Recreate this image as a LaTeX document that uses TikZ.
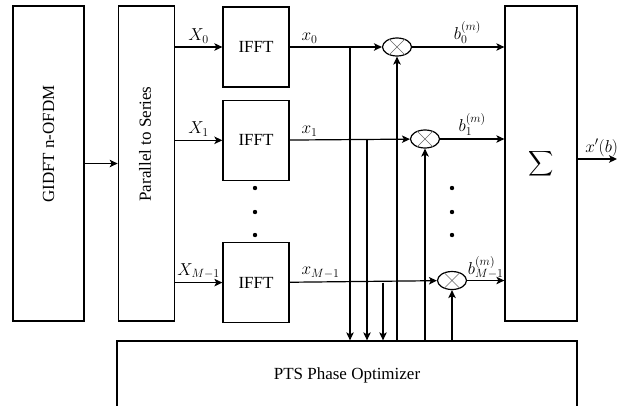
\documentclass[tikz,border=0pt]{standalone}
\usepackage{fontspec}
\setmainfont{Liberation Serif}
\usetikzlibrary{positioning, shapes.geometric, arrows.meta}

\begin{document}
\begin{tikzpicture}[
        x=1pt, y=-1pt,
        block/.style={
            draw,
            line width=1.3pt,
            inner sep=0pt
        },
        link/.style={
            -{Stealth[length=8pt, width=7.5pt, inset=2pt]},
            line width=1.2pt
        },
        mixer/.style={
            ellipse,
            draw,
            line width=1.2pt,
            minimum width=29pt,
            minimum height=18pt,
            inner sep=0pt
        },
        lbl/.style={font=\fontsize{17}{20}\selectfont}
    ]
    \useasboundingbox (0,0) rectangle (617,405);

    % Input blocks
    \node[block, minimum width=71pt, minimum height=315pt] (gidft) at (48.5,163.5) {};
    \node[lbl, rotate=90] (gidfttext) at (48.5,144) {GIDFT n-OFDM};
    \node[block, minimum width=56pt, minimum height=315pt, right=33pt of gidft] (p2s) {};
    \node[lbl, rotate=90] (p2stext) at (145,144) {Parallel to Series};

    % IFFT blocks
    \node[block, lbl, minimum width=66pt, minimum height=80pt] (ifft0) at (256,47) {IFFT};
    \node[block, lbl, minimum width=66pt, minimum height=80pt, below=12pt of ifft0] (ifft1) {IFFT};
    \node[block, lbl, minimum width=66pt, minimum height=80pt, below=61pt of ifft1] (ifftM) {IFFT};

    % Summation and optimizer
    \node[block, lbl, minimum width=72pt, minimum height=315pt] (sum) at (541,163.5)
        {\scalebox{1.75}{$\displaystyle\sum$}};
    \node[block, lbl, minimum width=460pt, minimum height=68pt] (pts) at (347,375) {PTS Phase Optimizer};

    % Multipliers
    \node[mixer] (mix0) at (397,47) {};
    \node[mixer] (mix1) at (425,139) {};
    \node[mixer] (mixM) at (452,280.5) {};
    \foreach \m in {mix0, mix1, mixM}
        \draw[line width=0.6pt, black!60] (\m.45) -- (\m.225) (\m.135) -- (\m.315);

    % Dots
    \foreach \y in {188, 212, 235} {
        \fill (255,\y) circle (2.2pt);
        \fill (452,\y) circle (2.2pt);
    }

    % Taps
    \path (ifft0) ++(94,0) coordinate (tap0);
    \path (ifft1) ++(111,0) coordinate (tap1);
    \path (ifftM) ++(127,0) coordinate (tapM);
    \coordinate (out) at (617,159);

    % Connections
    \draw[link] (gidft) -- (p2s);
    \foreach \i/\t in {0/X_0, 1/X_1, M/X_{M-1}}
        \draw[link] (p2s.east |- ifft\i) -- (ifft\i.west) node[midway, above, lbl] {$\t$};
    \foreach \i/\t in {0/x_0, 1/x_1, M/x_{M-1}} {
        \draw[link] (ifft\i) -- (mix\i) node[pos=0, above right, lbl, xshift=8pt] {$\t$};
        \draw[link] (tap\i) -- (tap\i |- pts.north);
        \draw[link] (pts.north -| mix\i) -- (mix\i.south);
    }
    \draw[link] (mix0) -- (sum.west |- mix0) node[pos=0.6, above, lbl] {$b_0^{(m)}$};
    \draw[link] (mix1) -- (sum.west |- mix1) node[midway, above, lbl] {$b_1^{(m)}$};
    \draw[link] (mixM) -- (sum.west |- mixM) node[midway, above, lbl, inner sep=1pt] {$b_{M-1}^{(m)}$};
    \draw[link] (sum.east |- out) -- (out) node[pos=0, above right, lbl, inner sep=2pt, xshift=5pt] {$x'(b)$};

\end{tikzpicture}
\end{document}
